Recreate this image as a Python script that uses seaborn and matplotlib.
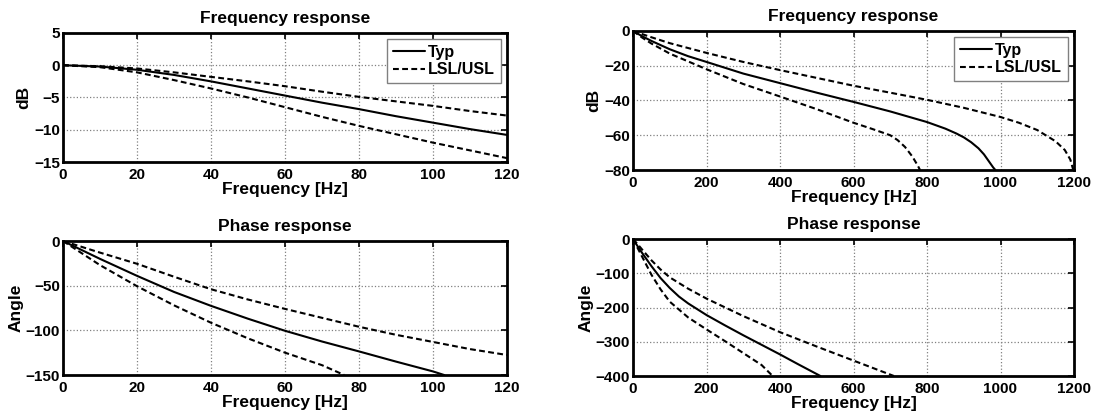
import numpy as np
import pandas as pd
import matplotlib
matplotlib.use("Agg")
import matplotlib.pyplot as plt
import seaborn as sns

# ---- data ----
# Top-left: magnitude (dB), 0-120 Hz
f_lo = [0, 10, 20, 30, 40, 50, 60, 70, 80, 90, 100, 110, 120]
mag_lo_typ = [0, -0.2, -0.7, -1.5, -2.5, -3.6, -4.7, -5.8, -6.8, -7.9, -8.9, -9.9, -10.8]
mag_lo_usl = [0, -0.15, -0.5, -1.1, -1.8, -2.5, -3.25, -4.1, -4.9, -5.6, -6.3, -7.1, -7.8]
mag_lo_lsl = [0, -0.3, -1.1, -2.3, -3.6, -5.0, -6.5, -8.0, -9.4, -10.7, -12.0, -13.2, -14.4]

# Top-right: magnitude (dB), 0-1200 Hz
f_hi_typ = [0, 25, 50, 100, 150, 200, 300, 400, 500, 600, 700, 800, 850, 880, 900, 920, 940, 955, 970, 980, 986]
mag_hi_typ = [0, -3, -5.7, -10.5, -14.5, -17.8, -24.5, -30, -35.5, -40.8, -46.3, -52.4, -56.2, -59, -61.2, -64, -67.5, -71, -75.5, -78.5, -80]
f_hi_usl = [0, 25, 50, 100, 200, 300, 400, 500, 600, 700, 800, 900, 1000, 1050, 1100, 1150, 1175, 1190, 1198]
mag_hi_usl = [0, -1.8, -3.6, -7, -12.6, -17.8, -22.5, -27, -31.5, -35.5, -39.6, -44.2, -49.5, -52.8, -57, -63.5, -68.5, -74, -80]
f_hi_lsl = [0, 25, 50, 100, 200, 300, 400, 500, 600, 650, 700, 720, 740, 760, 775, 781]
mag_hi_lsl = [0, -3.8, -7.2, -13, -22, -30.5, -37.7, -45, -52.8, -56.3, -60, -62.8, -66.7, -72.2, -77.5, -80]

# Bottom-left: phase (deg), 0-120 Hz
f_ph_lo_typ = [0, 10, 20, 30, 40, 50, 60, 70, 80, 90, 100, 103]
ph_lo_typ = [0, -20, -39, -57, -72.6, -87, -100.5, -112.5, -123.6, -135, -146, -150]
f_ph_lo_usl = [0, 10, 20, 30, 40, 50, 60, 70, 80, 90, 100, 110, 120]
ph_lo_usl = [0, -13, -25.5, -40, -54, -65.5, -76, -86, -96, -105, -113, -121, -127.6]
f_ph_lo_lsl = [0, 10, 20, 30, 40, 50, 60, 70, 76]
ph_lo_lsl = [0, -27, -50.6, -72, -91.5, -109, -125, -139, -150]

# Bottom-right: phase (deg), 0-1200 Hz
f_ph_hi_typ = [0, 10, 25, 50, 75, 100, 125, 150, 200, 250, 300, 350, 400, 450, 510]
ph_hi_typ = [0, -17, -41, -79, -114, -143, -168, -188, -222, -252, -281, -309, -337, -366, -400]
f_ph_hi_usl = [0, 10, 25, 50, 75, 100, 150, 200, 300, 400, 500, 600, 710]
ph_hi_usl = [0, -12, -31, -62, -89, -112, -145, -174, -225, -272, -314, -355, -400]
f_ph_hi_lsl = [0, 10, 25, 50, 75, 100, 150, 200, 250, 300, 350, 380]
ph_hi_lsl = [0, -21, -52, -104, -147, -183, -229, -264, -298, -333, -368, -400]

x_ticks_lo = [0, 20, 40, 60, 80, 100, 120]
x_ticks_hi = [0, 200, 400, 600, 800, 1000, 1200]

sns.set_style("white")
plt.rcParams['font.family'] = ['Liberation Sans', 'DejaVu Sans']
plt.rcParams['font.weight'] = 'bold'
plt.rcParams['axes.labelweight'] = 'bold'
plt.rcParams['axes.titleweight'] = 'bold'
plt.rcParams['text.color'] = 'black'
plt.rcParams['axes.labelcolor'] = 'black'
plt.rcParams['xtick.color'] = 'black'
plt.rcParams['ytick.color'] = 'black'
plt.rcParams['axes.titlecolor'] = 'black'

W, H = 1093, 419
fig = plt.figure(figsize=(W / 100, H / 100), dpi=100)

DASH = (2.8, 1.6)
LW = 1.5


def make_ax(l, r, t, b):
    return fig.add_axes([l / W, (H - b) / H, (r - l) / W, (b - t) / H])


def style(ax, xlim, ylim, xticks, yticks, ylabel, title):
    ax.set_xlim(*xlim)
    ax.set_ylim(*ylim)
    ax.set_xticks(xticks)
    ax.set_yticks(yticks)
    ax.grid(True, linestyle=':', color='#808080', linewidth=0.9)
    for s in ax.spines.values():
        s.set_visible(True)
        s.set_color('black')
        s.set_linewidth(2)
    ax.tick_params(direction='in', length=4, width=1.2, labelsize=11,
                   colors='black', labelcolor='black', top=True, right=True)
    ax.tick_params(axis='x', pad=4)
    ax.tick_params(axis='y', pad=2)
    for lab in ax.get_xticklabels() + ax.get_yticklabels():
        lab.set_fontweight('bold')
    ax.set_xlabel('Frequency [Hz]', fontsize=12.5, fontweight='bold', labelpad=0, color='black')
    ax.set_ylabel(ylabel, fontsize=12.5, fontweight='bold', labelpad=2, color='black')
    ax.set_title(title, fontsize=12.5, fontweight='bold', pad=7.5, color='black')


def draw(ax, xt, yt, xu, yu, xl, yl, legend):
    sns.lineplot(x=xt, y=yt, ax=ax, color='black', linewidth=LW,
                 label='Typ' if legend else None, sort=False)
    sns.lineplot(x=xu, y=yu, ax=ax, color='black', linewidth=LW,
                 linestyle=(0, DASH),
                 label='LSL/USL' if legend else None, sort=False)
    sns.lineplot(x=xl, y=yl, ax=ax, color='black', linewidth=LW,
                 linestyle=(0, DASH), sort=False)
    if legend:
        leg = ax.legend(loc='upper right', fancybox=False, framealpha=1,
                        edgecolor='#808080', fontsize=11.5, handlelength=2.0,
                        borderaxespad=0.4, handletextpad=0.2, labelspacing=0.15,
                        borderpad=0.35)
        leg.get_frame().set_linewidth(1.0)
        for t in leg.get_texts():
            t.set_fontweight('bold')
            t.set_color('black')
    else:
        if ax.get_legend() is not None:
            ax.get_legend().remove()


ax1 = make_ax(63, 507, 33, 162)
draw(ax1, f_lo, mag_lo_typ, f_lo, mag_lo_usl, f_lo, mag_lo_lsl, True)
style(ax1, (0, 120), (-15, 5), x_ticks_lo, [5, 0, -5, -10, -15], 'dB', 'Frequency response')

ax2 = make_ax(633, 1074, 31, 170)
draw(ax2, f_hi_typ, mag_hi_typ, f_hi_usl, mag_hi_usl, f_hi_lsl, mag_hi_lsl, True)
style(ax2, (0, 1200), (-80, 0), x_ticks_hi, [0, -20, -40, -60, -80], 'dB', 'Frequency response')

ax3 = make_ax(63, 507, 241, 375)
draw(ax3, f_ph_lo_typ, ph_lo_typ, f_ph_lo_usl, ph_lo_usl, f_ph_lo_lsl, ph_lo_lsl, False)
style(ax3, (0, 120), (-150, 0), x_ticks_lo, [0, -50, -100, -150], 'Angle', 'Phase response')

ax4 = make_ax(633, 1074, 239, 376)
draw(ax4, f_ph_hi_typ, ph_hi_typ, f_ph_hi_usl, ph_hi_usl, f_ph_hi_lsl, ph_hi_lsl, False)
style(ax4, (0, 1200), (-400, 0), x_ticks_hi, [0, -100, -200, -300, -400], 'Angle', 'Phase response')

fig.savefig('out.png', dpi=100, facecolor='white')
